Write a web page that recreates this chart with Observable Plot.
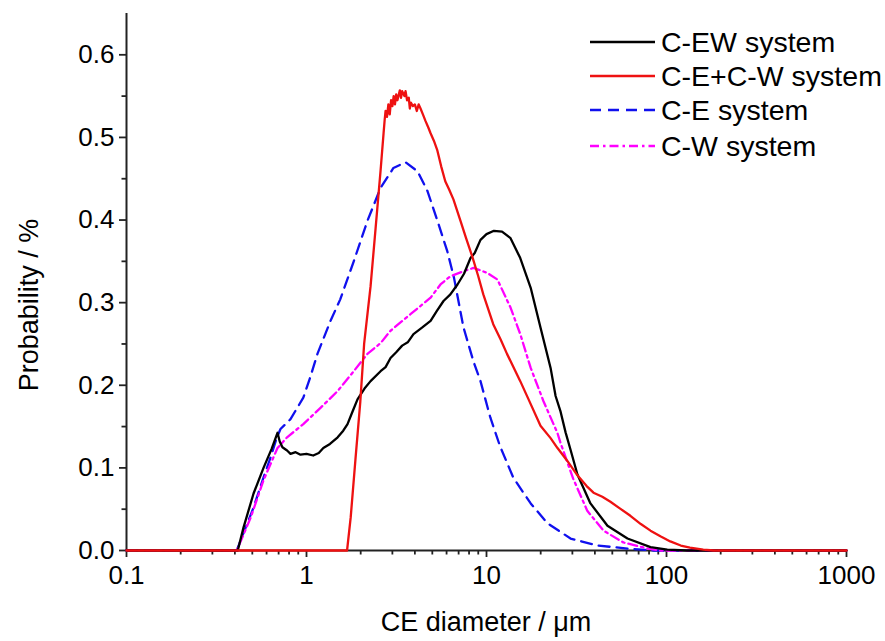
<!DOCTYPE html>
<html>
<head>
<meta charset="utf-8">
<script src="https://cdn.jsdelivr.net/npm/d3@7"></script>
<script src="https://cdn.jsdelivr.net/npm/@observablehq/plot@0.6"></script>
<style>
  html, body { margin: 0; padding: 0; background: #fff; }
  #chart svg { display: block; }
</style>
</head>
<body>
<div id="chart"></div>
<script>
// ---- Data ----
const seriesNames = ["C-EW system", "C-E+C-W system", "C-E system", "C-W system"];
const seriesColors = ["#000000", "#ee1111", "#1010ee", "#ff00ff"];
const seriesDash = [null, null, "11,7", "9,4,2.5,4"];

const xTicks = [0.1, 1, 10, 100, 1000];
const xTickLabels = ["0.1", "1", "10", "100", "1000"];
const yTicks = [0, 0.1, 0.2, 0.3, 0.4, 0.5, 0.6];

// C-EW system (black)
const ewX = [0.1, 0.415, 0.447, 0.508, 0.577, 0.64, 0.69, 0.71, 0.735, 0.78, 0.815, 0.87, 0.926, 1.0, 1.09, 1.17, 1.24, 1.35, 1.49, 1.6, 1.69, 1.8, 1.92, 2.1, 2.27, 2.58, 2.75, 2.93, 3.15, 3.4, 3.65, 3.93, 4.4, 4.89, 5.3, 5.77, 6.3, 6.9, 7.5, 8.15, 8.6, 9.26, 10, 11, 12.2, 13.6, 15.4, 17.6, 19.95, 22.7, 24.2, 25.8, 27.5, 29.3, 32, 37.8, 47, 60.7, 81.5, 101, 130, 1000];
const ewY = [0, 0, 0.028, 0.069, 0.1, 0.123, 0.1425, 0.132, 0.125, 0.121, 0.117, 0.119, 0.116, 0.117, 0.115, 0.118, 0.124, 0.129, 0.137, 0.145, 0.153, 0.168, 0.183, 0.196, 0.205, 0.217, 0.222, 0.233, 0.24, 0.248, 0.252, 0.262, 0.27, 0.278, 0.29, 0.302, 0.31, 0.322, 0.335, 0.354, 0.36, 0.376, 0.383, 0.387, 0.386, 0.378, 0.354, 0.318, 0.27, 0.221, 0.187, 0.168, 0.143, 0.122, 0.092, 0.057, 0.030, 0.0145, 0.004, 0.001, 0, 0];

// C-E+C-W system (red)
const ecwX = [0.1, 1.68, 1.76, 1.87, 1.99, 2.09, 2.27, 2.42, 2.58, 2.68, 2.72, 2.75, 2.8, 2.85, 2.9, 2.95, 3.0, 3.05, 3.1, 3.15, 3.2, 3.3, 3.35, 3.4, 3.5, 3.55, 3.62, 3.7, 3.75, 3.8, 3.9, 4.0, 4.1, 4.2, 4.3, 4.45, 4.58, 4.75, 4.89, 5.1, 5.32, 5.6, 5.9, 6.2, 6.55, 7.17, 7.7, 8.33, 9.0, 9.6, 10.9, 12, 13, 15.4, 17.2, 19.95, 22.7, 24.8, 28, 32, 36, 39.3, 44, 48.8, 55, 63, 72, 81.5, 93, 105, 120, 135, 160, 183, 1000];
const ecwY = [0, 0, 0.04, 0.11, 0.18, 0.25, 0.32, 0.39, 0.46, 0.505, 0.522, 0.532, 0.525, 0.54, 0.528, 0.545, 0.538, 0.55, 0.54, 0.552, 0.545, 0.557, 0.548, 0.556, 0.55, 0.556, 0.545, 0.548, 0.535, 0.542, 0.538, 0.54, 0.532, 0.54, 0.535, 0.527, 0.52, 0.512, 0.505, 0.496, 0.485, 0.465, 0.447, 0.437, 0.425, 0.399, 0.378, 0.356, 0.332, 0.31, 0.274, 0.255, 0.238, 0.205, 0.182, 0.151, 0.136, 0.124, 0.109, 0.091, 0.078, 0.07, 0.065, 0.059, 0.051, 0.042, 0.032, 0.024, 0.017, 0.011, 0.006, 0.0036, 0.001, 0, 0];

// C-E system (blue dashed)
const ceX = [0.1, 0.41, 0.43, 0.508, 0.57, 0.63, 0.68, 0.717, 0.815, 0.96, 1.05, 1.15, 1.36, 1.54, 1.83, 2.18, 2.58, 3.04, 3.55, 4.14, 4.7, 5.34, 6.06, 6.6, 7.45, 8.46, 9.26, 10.5, 11.9, 14.1, 17.6, 21.8, 29.3, 41.4, 63, 85, 1000];
const ceY = [0, 0, 0.012, 0.052, 0.085, 0.112, 0.135, 0.147, 0.159, 0.185, 0.21, 0.238, 0.278, 0.304, 0.35, 0.399, 0.439, 0.463, 0.47, 0.459, 0.435, 0.399, 0.362, 0.33, 0.27, 0.229, 0.205, 0.161, 0.126, 0.088, 0.057, 0.033, 0.0145, 0.006, 0.002, 0, 0];

// C-W system (magenta dash-dot)
const cwX = [0.1, 0.41, 0.49, 0.577, 0.69, 0.78, 0.96, 1.2, 1.49, 1.83, 2.18, 2.58, 2.93, 3.78, 4.89, 5.55, 6.3, 7.45, 8.46, 10.1, 11.5, 13.6, 15.4, 17.6, 20.7, 24.8, 25.8, 28, 30.3, 36.3, 44.7, 57.6, 78.5, 93, 1000];
const cwY = [0, 0, 0.04, 0.085, 0.124, 0.137, 0.153, 0.173, 0.193, 0.217, 0.238, 0.251, 0.266, 0.286, 0.306, 0.322, 0.332, 0.338, 0.342, 0.336, 0.328, 0.294, 0.262, 0.221, 0.181, 0.142, 0.13, 0.108, 0.087, 0.048, 0.024, 0.0097, 0.0024, 0, 0];

const seriesX = [ewX, ecwX, ceX, cwX];
const seriesY = [ewY, ecwY, ceY, cwY];

// Build tidy tables
const tables = seriesNames.map((name, i) =>
  seriesX[i].map((x, j) => ({x, y: seriesY[i][j], series: name}))
);

const minorX = [];
for (const d of [0.1, 1, 10, 100]) for (let k = 2; k <= 9; k++) minorX.push(+(d * k).toPrecision(3));
const minorY = [0.05, 0.15, 0.25, 0.35, 0.45, 0.55];

const drawOrder = [2, 3, 0, 1];
const lineMarks = drawOrder.map(i => Plot.line(tables[i], {
  x: "x", y: "y",
  stroke: seriesColors[i],
  strokeWidth: 2.3,
  strokeDasharray: seriesDash[i] || undefined,
  strokeLinejoin: "round"
}));

const W = 885, H = 641;
const plot = Plot.plot({
  width: W, height: H,
  marginLeft: 126, marginRight: 39, marginTop: 13, marginBottom: 91,
  style: {fontFamily: "'Liberation Sans', Arial, sans-serif", color: "#000", background: "#fff"},
  x: {type: "log", domain: [0.1, 1000]},
  y: {domain: [0, 0.65]},
  marks: [
    Plot.axisX({ticks: xTicks, tickFormat: (d) => xTickLabels[xTicks.indexOf(d)], tickSize: 7, tickPadding: 8, fontSize: 26, label: null, stroke: "#222", strokeWidth: 1.8}),
    Plot.axisX({ticks: minorX, tickFormat: () => "", tickSize: 4.5, label: null, stroke: "#222", strokeWidth: 1.8}),
    Plot.axisY({ticks: yTicks, tickFormat: d3.format(".1f"), tickSize: 7, tickPadding: 5, fontSize: 26, label: null, stroke: "#222", strokeWidth: 1.8}),
    Plot.axisY({ticks: minorY, tickFormat: () => "", tickSize: 4.5, label: null, stroke: "#222", strokeWidth: 1.8}),
    Plot.ruleX([0.1], {stroke: "#222", strokeWidth: 2}),
    Plot.ruleY([0], {stroke: "#222", strokeWidth: 2}),
    ...lineMarks
  ]
});

const svg = d3.select(plot);
// Axis titles
svg.append("text")
  .attr("x", 486).attr("y", 631)
  .attr("text-anchor", "middle")
  .attr("font-size", 27)
  .attr("fill", "#000")
  .text("CE diameter / μm");
svg.append("text")
  .attr("transform", "translate(38,305) rotate(-90)")
  .attr("text-anchor", "middle")
  .attr("font-size", 27)
  .attr("fill", "#000")
  .text("Probability / %");

// Legend
const legendY = [42, 76, 110, 146];
const lg = svg.append("g").attr("text-anchor", "start");
seriesNames.forEach((name, i) => {
  lg.append("line")
    .attr("x1", 590).attr("x2", 655)
    .attr("y1", legendY[i]).attr("y2", legendY[i])
    .attr("stroke", seriesColors[i])
    .attr("stroke-width", 2.3)
    .attr("stroke-dasharray", seriesDash[i] || null);
  lg.append("text")
    .attr("x", 661).attr("y", legendY[i] + 10)
    .attr("text-anchor", "start")
    .attr("font-size", 28.5)
    .attr("fill", "#000")
    .text(name);
});

document.getElementById("chart").appendChild(plot);
</script>
</body>
</html>
